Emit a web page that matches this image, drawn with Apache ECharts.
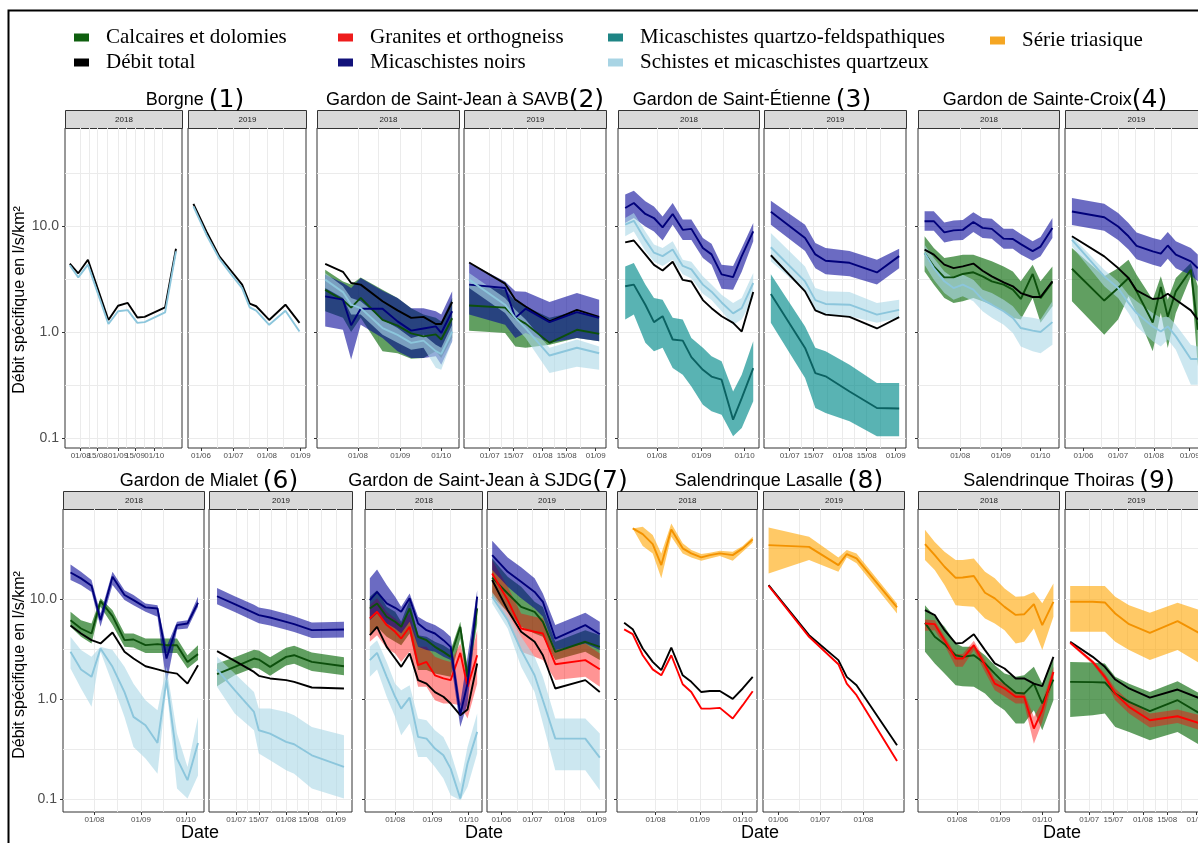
<!DOCTYPE html>
<html>
<head>
<meta charset="utf-8">
<title>Débit spécifique par bassin</title>
<script src="https://cdn.jsdelivr.net/npm/echarts@6.0.0/dist/echarts.min.js"></script>
<style>
  html, body { margin: 0; padding: 0; background: #fff; }
  #chart { width: 1198px; height: 843px; }
</style>
</head>
<body>
<div id="chart"></div>
<script>
// ---------- data (l/s/km²) ----------
// Borgne (1)
const p1a_dates = ['2018-07-23','2018-07-30','2018-08-07','2018-08-24','2018-09-01','2018-09-09','2018-09-17','2018-09-23','2018-10-10','2018-10-19']
const p1a_total = [4.41, 3.58, 4.81, 1.30, 1.77, 1.88, 1.37, 1.39, 1.71, 6.11]
const p1a_schistes = [4.26, 3.28, 4.32, 1.19, 1.57, 1.61, 1.22, 1.24, 1.53, 5.77]
const p1b_dates = ['2019-05-25','2019-06-06','2019-06-18','2019-06-28','2019-07-09','2019-07-16','2019-07-22','2019-08-03','2019-08-18','2019-08-31']
const p1b_total = [16.2, 8.91, 5.17, 3.87, 2.80, 1.85, 1.75, 1.30, 1.81, 1.22]
const p1b_schistes = [15.3, 8.28, 4.92, 3.60, 2.60, 1.71, 1.59, 1.17, 1.59, 1.01]

// Gardon de Saint-Jean à SAVB (2)
const p2a_dates = ['2018-07-08','2018-07-21','2018-07-27','2018-08-03','2018-08-19','2018-08-30','2018-09-09','2018-09-18','2018-09-27','2018-10-01','2018-10-09']
const p2a_total = [4.4, 3.7, 2.9, 2.8, 1.95, 1.6, 1.36, 1.39, 1.19, 1.19, 1.92]
const p2a_noirs = [2.17, 2.02, 1.16, 1.66, 1.66, 1.26, 1.03, 1.08, 1.13, 0.98, 1.57]
const p2a_noirs_lo = [1.13, 1.05, 0.55, 1.17, 0.88, 0.66, 0.57, 0.57, 0.59, 0.49, 0.82]
const p2a_noirs_hi = [3.47, 2.9, 2.6, 3.23, 2.45, 2.09, 1.68, 1.68, 1.57, 1.46, 2.42]
const p2a_calc = [2.5, 2.0, 1.7, 2.1, 1.3, 1.15, 0.97, 0.91, 0.95, 0.85, 1.35]
const p2a_calc_lo = [1.57, 1.36, 1.0, 1.36, 0.66, 0.63, 0.56, 0.57, 0.66, 0.57, 0.88]
const p2a_calc_hi = [3.87, 3.0, 2.8, 3.27, 2.5, 2.09, 1.68, 1.46, 1.36, 1.26, 2.09]
const p2a_schistes = [3.12, 2.38, 1.81, 1.68, 1.09, 0.94, 0.79, 0.83, 0.66, 0.62, 1.01]
const p2a_schistes_lo = [2.6, 2.09, 1.46, 1.46, 0.94, 0.79, 0.68, 0.71, 0.46, 0.44, 0.82]
const p2a_schistes_hi = [3.6, 2.7, 2.09, 1.95, 1.31, 1.09, 0.88, 0.94, 0.76, 0.71, 1.17]
const p2b_dates = ['2019-06-19','2019-07-10','2019-07-16','2019-07-22','2019-08-05','2019-08-21','2019-09-03']
const p2b_total = [4.53, 2.86, 2.02, 1.74, 1.26, 1.62, 1.39]
const p2b_noirs = [2.80, 2.60, 1.36, 1.66, 1.24, 1.54, 1.36]
const p2b_noirs_lo = [1.46, 1.17, 0.88, 0.98, 0.79, 0.88, 0.82]
const p2b_noirs_hi = [4.5, 3.0, 2.42, 2.4, 1.92, 2.33, 2.02]
const p2b_calc = [1.78, 1.7, 1.36, 1.2, 0.79, 1.05, 0.96]
const p2b_calc_lo = [1.03, 0.98, 0.73, 0.71, 0.76, 0.88, 0.82]
const p2b_calc_hi = [2.8, 2.5, 1.95, 1.74, 1.36, 1.57, 1.36]
const p2b_schistes = [3.12, 1.81, 1.36, 1.09, 0.60, 0.71, 0.63]
const p2b_schistes_lo = [2.6, 1.51, 1.13, 0.88, 0.41, 0.47, 0.44]
const p2b_schistes_hi = [3.6, 2.09, 1.62, 1.31, 0.71, 0.85, 0.73]

// Gardon de Saint-Étienne (3)
const p3a_dates = ['2018-07-10','2018-07-16','2018-07-24','2018-07-30','2018-08-05','2018-08-12','2018-08-19','2018-08-25','2018-09-02','2018-09-08','2018-09-15','2018-09-23','2018-09-29','2018-10-07']
const p3a_total = [7.0, 7.3, 5.4, 4.3, 3.8, 4.6, 3.1, 3.0, 2.0, 1.68, 1.41, 1.22, 1.01, 2.38]
const p3a_noirs = [14.8, 16.5, 13.0, 11.9, 9.7, 13.0, 9.2, 9.4, 6.2, 5.4, 3.5, 3.3, 5.2, 8.9]
const p3a_noirs_lo = [10.7, 11.9, 9.9, 8.9, 7.3, 10.3, 7.4, 7.4, 5.0, 4.3, 2.56, 2.5, 3.7, 7.2]
const p3a_noirs_hi = [19.8, 21.5, 17.1, 15.3, 12.3, 16.5, 11.5, 11.5, 7.7, 6.8, 4.3, 4.2, 6.2, 10.7]
const p3a_schistes = [10.3, 11.2, 7.4, 5.6, 5.2, 6.0, 4.2, 3.9, 2.8, 2.4, 1.9, 1.5, 1.68, 2.9]
const p3a_schistes_lo = [8.0, 8.9, 5.8, 4.6, 4.2, 4.8, 3.5, 3.2, 2.3, 2.0, 1.57, 1.17, 1.31, 2.09]
const p3a_schistes_hi = [11.9, 13.3, 8.9, 6.7, 6.2, 7.2, 4.8, 4.6, 3.35, 2.8, 2.25, 1.88, 2.09, 3.6]
const p3a_quartzo = [2.7, 2.8, 1.81, 1.24, 1.41, 0.85, 0.83, 0.58, 0.44, 0.38, 0.355, 0.149, 0.238, 0.457]
const p3a_quartzo_lo = [1.31, 1.46, 0.79, 0.66, 0.71, 0.457, 0.396, 0.307, 0.206, 0.179, 0.166, 0.104, 0.124, 0.222]
const p3a_quartzo_hi = [4.16, 4.48, 2.8, 2.09, 2.02, 1.36, 1.31, 0.88, 0.71, 0.59, 0.53, 0.275, 0.396, 0.817]
const p3b_dates = ['2019-06-20','2019-07-10','2019-07-16','2019-07-22','2019-08-05','2019-08-21','2019-09-03']
const p3b_total = [5.3, 2.42, 1.6, 1.46, 1.39, 1.08, 1.38]
const p3b_noirs = [13.6, 7.7, 5.4, 4.7, 4.5, 3.65, 5.2]
const p3b_noirs_lo = [10.3, 5.8, 4.0, 3.5, 3.35, 2.8, 4.0]
const p3b_noirs_hi = [17.3, 10.3, 6.9, 6.2, 5.8, 4.8, 6.1]
const p3b_schistes = [6.3, 3.0, 2.0, 1.84, 1.81, 1.46, 1.62]
const p3b_schistes_lo = [4.64, 2.42, 1.57, 1.46, 1.41, 1.22, 1.36]
const p3b_schistes_hi = [8.6, 4.16, 2.6, 2.42, 2.38, 1.88, 2.02]
const p3b_quartzo = [2.28, 0.707, 0.41, 0.382, 0.275, 0.192, 0.19]
const p3b_quartzo_lo = [1.22, 0.368, 0.192, 0.172, 0.144, 0.104, 0.104]
const p3b_quartzo_hi = [3.5, 1.13, 0.71, 0.657, 0.491, 0.33, 0.33]

// Gardon de Sainte-Croix (4)
const p4a_dates = ['2018-07-05','2018-07-12','2018-07-20','2018-07-27','2018-08-03','2018-08-11','2018-08-18','2018-08-25','2018-09-03','2018-09-10','2018-09-16','2018-09-25','2018-10-01','2018-10-10']
const p4a_total = [5.98, 5.37, 4.32, 4.01, 4.16, 4.42, 3.79, 3.35, 2.94, 2.70, 2.33, 2.14, 2.14, 3.01]
const p4a_noirs = [11.1, 11.1, 8.7, 9.1, 9.2, 10.9, 9.6, 9.4, 7.6, 7.55, 6.75, 5.8, 6.4, 9.6]
const p4a_noirs_lo = [9.0, 9.0, 7.0, 7.3, 7.4, 8.8, 7.7, 7.6, 6.1, 6.1, 5.4, 4.7, 5.2, 7.7]
const p4a_noirs_hi = [13.8, 13.8, 10.8, 11.3, 11.4, 13.5, 11.9, 11.7, 9.4, 9.4, 8.4, 7.2, 7.9, 11.9]
const p4a_calc = [5.56, 4.16, 3.28, 3.28, 3.53, 3.66, 3.35, 3.01, 2.80, 2.51, 2.05, 3.53, 2.09, 2.96]
const p4a_calc_lo = [3.73, 2.80, 2.09, 1.88, 1.95, 2.09, 1.95, 1.81, 1.57, 1.36, 1.31, 2.09, 1.22, 1.75]
const p4a_calc_hi = [8.0, 6.2, 5.0, 5.17, 5.37, 5.37, 5.0, 4.64, 4.16, 3.73, 3.01, 4.32, 3.01, 4.16]
const p4a_schistes = [5.56, 4.01, 3.01, 2.60, 2.80, 2.51, 2.02, 1.81, 1.57, 1.36, 1.09, 1.03, 1.0, 1.24]
const p4a_schistes_lo = [4.32, 3.12, 2.33, 2.02, 2.17, 1.95, 1.57, 1.36, 1.17, 0.98, 0.73, 0.66, 0.63, 0.76]
const p4a_schistes_hi = [6.67, 5.0, 3.73, 3.23, 3.47, 3.12, 2.51, 2.33, 2.02, 1.75, 1.41, 1.36, 1.31, 1.95]
const p4b_dates = ['2019-05-22','2019-06-19','2019-07-01','2019-07-10','2019-07-17','2019-07-31','2019-08-07','2019-08-13','2019-08-20','2019-09-02','2019-09-08']
const p4b_total = [8.0, 5.17, 4.01, 3.23, 2.47, 2.05, 2.09, 2.3, 2.02, 1.6, 1.31]
const p4b_noirs = [13.7, 12.1, 9.9, 8.0, 6.5, 5.77, 5.5, 6.55, 5.37, 4.64, 4.0]
const p4b_noirs_lo = [10.2, 9.0, 7.4, 6.0, 4.85, 4.3, 4.1, 4.9, 4.0, 3.46, 3.0]
const p4b_noirs_hi = [18.4, 16.2, 13.3, 10.7, 8.7, 7.7, 7.4, 8.8, 7.2, 6.2, 5.4]
const p4b_calc = [3.95, 1.98, 2.6, 3.23, 2.42, 1.23, 2.66, 1.39, 2.42, 3.87, 1.05]
const p4b_calc_lo = [1.95, 0.944, 1.31, 2.17, 1.51, 0.657, 1.51, 0.707, 1.51, 3.35, 0.475]
const p4b_calc_hi = [6.2, 3.35, 4.0, 4.8, 3.47, 2.02, 3.35, 2.02, 3.23, 4.48, 2.7]
const p4b_schistes = [7.4, 3.35, 2.6, 1.88, 1.51, 1.13, 1.01, 1.13, 0.91, 0.556, 0.556]
const p4b_schistes_lo = [6.4, 2.7, 2.09, 1.51, 1.13, 0.82, 0.73, 0.85, 0.68, 0.318, 0.318]
const p4b_schistes_hi = [8.0, 3.87, 3.0, 2.25, 1.95, 1.51, 1.36, 1.41, 1.17, 0.76, 0.73]

// Gardon de Mialet (6)
const p6a_dates = ['2018-07-16','2018-07-23','2018-07-30','2018-08-05','2018-08-13','2018-08-21','2018-08-27','2018-09-04','2018-09-12','2018-09-18','2018-09-25','2018-10-02','2018-10-09']
const p6a_total = [5.41, 4.5, 3.86, 3.58, 4.61, 2.95, 2.53, 2.12, 1.97, 1.86, 1.79, 1.42, 2.17]
const p6a_noirs = [18.3, 16.0, 13.5, 6.12, 16.6, 10.9, 9.7, 8.2, 8.0, 2.53, 5.46, 5.67, 9.12]
const p6a_noirs_lo = [15.4, 13.7, 11.7, 5.25, 13.7, 9.7, 8.64, 7.41, 6.61, 1.42, 4.94, 5.05, 8.32]
const p6a_noirs_hi = [22.0, 18.6, 15.4, 7.13, 18.6, 12.2, 10.9, 8.98, 8.64, 3.31, 5.89, 6.12, 10.5]
const p6a_calc = [6.12, 5.05, 4.5, 9.48, 6.71, 3.86, 3.92, 3.44, 3.52, 3.44, 3.44, 2.34, 2.80]
const p6a_calc_lo = [5.25, 4.17, 3.58, 8.32, 5.46, 3.31, 3.26, 2.88, 2.88, 2.88, 2.88, 2.01, 2.44]
const p6a_calc_hi = [7.41, 6.12, 5.67, 10.1, 7.7, 4.5, 4.5, 4.01, 4.01, 4.01, 4.01, 2.73, 3.44]
const p6a_schistes = [2.95, 1.97, 1.66, 3.19, 2.09, 1.17, 0.661, 0.545, 0.363, 1.54, 0.253, 0.154, 0.363]
const p6a_schistes_lo = [2.01, 1.27, 0.832, 2.95, 1.42, 0.661, 0.331, 0.253, 0.179, 1.32, 0.127, 0.101, 0.172]
const p6a_schistes_hi = [4.17, 3.07, 2.63, 3.31, 3.07, 2.09, 1.42, 0.97, 0.77, 2.09, 0.45, 0.209, 0.661]
const p6b_dates = ['2019-06-19','2019-06-30','2019-07-12','2019-07-15','2019-07-22','2019-08-01','2019-08-06','2019-08-17','2019-09-06']
const p6b_total = [3.0, 2.4, 1.86, 1.7, 1.6, 1.54, 1.48, 1.3, 1.27]
const p6b_noirs = [10.6, 8.85, 7.24, 6.87, 6.5, 5.89, 5.58, 4.86, 4.94]
const p6b_noirs_lo = [8.8, 7.4, 6.0, 5.7, 5.4, 4.9, 4.65, 4.05, 4.1]
const p6b_noirs_hi = [12.8, 10.6, 8.7, 8.2, 7.8, 7.1, 6.7, 5.8, 5.9]
const p6b_calc = [1.77, 2.09, 2.53, 2.47, 2.09, 2.63, 2.73, 2.34, 2.12]
const p6b_calc_lo = [1.34, 1.72, 2.05, 2.0, 1.7, 2.15, 2.25, 1.9, 1.72]
const p6b_calc_hi = [2.26, 2.6, 3.1, 3.05, 2.6, 3.25, 3.4, 2.9, 2.6]
const p6b_schistes = [1.97, 1.22, 0.741, 0.486, 0.45, 0.372, 0.352, 0.273, 0.209]
const p6b_schistes_lo = [1.32, 0.714, 0.486, 0.284, 0.243, 0.194, 0.179, 0.127, 0.101]
const p6b_schistes_hi = [2.63, 1.79, 1.17, 0.8, 0.8, 0.741, 0.686, 0.525, 0.434]

// Gardon de Saint-Jean à SJDG (7)
const p7a_dates = ['2018-07-11','2018-07-17','2018-07-25','2018-08-01','2018-08-06','2018-08-13','2018-08-20','2018-08-27','2018-09-03','2018-09-10','2018-09-16','2018-09-24','2018-09-30','2018-10-08']
const p7a_total = [4.33, 5.25, 3.31, 2.53, 2.09, 2.84, 1.54, 1.42, 1.17, 1.05, 0.898, 0.687, 0.782, 2.26]
const p7a_noirs = [9.7, 11.7, 8.98, 8.13, 7.41, 10.1, 5.67, 4.86, 4.5, 3.86, 3.31, 0.697, 1.42, 10.5]
const p7a_noirs_lo = [6.12, 7.13, 5.67, 5.05, 4.5, 5.89, 3.31, 3.07, 2.95, 2.63, 2.44, 0.525, 0.898, 7.7]
const p7a_noirs_hi = [16.0, 19.6, 13.7, 10.5, 8.32, 11.3, 6.61, 5.89, 5.46, 4.86, 4.17, 0.898, 2.63, 12.2]
const p7a_calc = [8.0, 8.98, 6.61, 5.89, 5.25, 8.0, 4.17, 3.86, 3.31, 2.95, 2.63, 5.25, 1.66, 8.0]
const p7a_calc_lo = [4.5, 5.25, 4.17, 3.72, 3.44, 4.5, 1.94, 1.94, 1.79, 1.72, 1.66, 4.01, 1.32, 5.67]
const p7a_calc_hi = [10.5, 12.2, 8.32, 7.41, 5.89, 9.7, 4.33, 4.17, 3.72, 3.44, 3.07, 5.89, 2.09, 9.7]
const p7a_granites = [6.36, 7.41, 5.46, 4.68, 4.01, 5.25, 2.17, 2.34, 1.72, 1.60, 1.54, 2.88, 1.32, 2.73]
const p7a_granites_lo = [3.72, 4.33, 3.19, 2.84, 2.34, 2.95, 1.32, 1.32, 0.97, 0.898, 0.898, 0.865, 0.636, 1.42]
const p7a_granites_hi = [8.64, 10.1, 7.41, 6.36, 5.67, 7.13, 3.31, 3.31, 2.63, 2.44, 2.34, 3.58, 1.79, 4.86]
const p7a_schistes = [2.44, 2.88, 1.66, 1.05, 0.8, 1.03, 0.417, 0.401, 0.319, 0.273, 0.201, 0.101, 0.226, 0.468]
const p7a_schistes_lo = [1.66, 1.97, 1.05, 0.661, 0.433, 0.567, 0.263, 0.263, 0.209, 0.16, 0.109, 0.097, 0.132, 0.284]
const p7a_schistes_hi = [3.31, 3.86, 2.34, 1.42, 1.22, 1.37, 0.636, 0.612, 0.486, 0.417, 0.295, 0.142, 0.331, 0.714]
const p7b_dates = ['2019-05-23','2019-06-07','2019-06-20','2019-07-03','2019-07-11','2019-07-23','2019-08-21','2019-09-04']
const p7b_total = [15.4, 7.7, 4.68, 3.72, 2.73, 1.27, 1.54, 1.17]
const p7b_noirs = [27.3, 18.6, 14.8, 11.7, 9.33, 4.01, 5.46, 4.43]
const p7b_noirs_lo = [19.4, 13.2, 10.1, 8.0, 6.61, 3.07, 3.58, 3.07]
const p7b_noirs_hi = [38.0, 25.9, 20.6, 16.0, 11.3, 5.46, 7.24, 5.89]
const p7b_calc = [16.3, 11.3, 8.3, 7.41, 5.89, 2.95, 3.72, 3.31]
const p7b_calc_lo = [10.5, 7.41, 5.25, 4.5, 4.17, 2.44, 2.95, 2.44]
const p7b_calc_hi = [25.3, 16.6, 13.2, 9.33, 8.3, 3.72, 4.86, 4.33]
const p7b_granites = [17.9, 9.7, 5.05, 4.68, 4.5, 2.22, 2.44, 1.98]
const p7b_granites_lo = [11.3, 5.89, 2.95, 2.63, 2.44, 1.54, 1.66, 1.32]
const p7b_granites_hi = [24.4, 13.2, 7.13, 6.61, 6.36, 3.07, 3.58, 2.84]
const p7b_schistes = [10.5, 6.12, 3.07, 1.72, 0.97, 0.401, 0.401, 0.259]
const p7b_schistes_lo = [8.98, 5.05, 2.09, 1.17, 0.567, 0.194, 0.194, 0.122]
const p7b_schistes_hi = [11.7, 7.13, 4.17, 2.63, 1.66, 0.636, 0.636, 0.45]

// Salendrinque Lasalle (8)
const p8a_dates = ['2018-07-10','2018-07-16','2018-07-23','2018-07-30','2018-08-05','2018-08-12','2018-08-20','2018-08-26','2018-09-02','2018-09-08','2018-09-15','2018-09-24','2018-10-01','2018-10-08']
const p8a_total = [5.75, 4.97, 3.19, 2.34, 1.94, 3.26, 1.72, 1.48, 1.17, 1.2, 1.2, 1.0, 1.27, 1.66]
const p8a_granites = [4.94, 4.43, 2.73, 1.97, 1.72, 2.73, 1.4, 1.17, 0.8, 0.8, 0.813, 0.636, 0.865, 1.19]
const p8a_trias = [null, 50.5, 44.3, 35.2, 21.7, 49.3, 31.9, 28.4, 25.9, 27.3, 28.4, 27.3, 31.9, 39.2]
const p8a_trias_lo = [null, 50.5, 33.6, 28.4, 16.0, 41.7, 28.4, 25.9, 24.0, 25.3, 26.7, 24.0, 29.5, 36.3]
const p8a_trias_hi = [null, 50.5, 52.5, 43.3, 28.4, 56.6, 35.8, 30.7, 28.0, 28.8, 30.2, 29.5, 33.6, 41.7]
const p8b_dates = ['2019-05-25','2019-06-23','2019-07-14','2019-07-20','2019-07-27','2019-08-25']
const p8b_total = [13.7, 4.33, 2.44, 1.66, 1.37, 0.344]
const p8b_granites = [13.5, 4.17, 2.22, 1.42, 1.09, 0.24]
const p8b_trias = [34.4, 33.0, 21.7, 28.0, 25.3, 8.2]
const p8b_trias_lo = [17.9, 24.4, 18.6, 25.9, 22.6, 7.13]
const p8b_trias_hi = [51.7, 41.7, 25.9, 30.7, 28.4, 8.98]

// Salendrinque Thoiras (9)
const p9a_dates = ['2018-07-09','2018-07-16','2018-07-23','2018-07-31','2018-08-05','2018-08-13','2018-08-21','2018-08-28','2018-09-04','2018-09-12','2018-09-18','2018-09-25','2018-10-01','2018-10-09']
const p9a_total = [7.7, 6.87, 4.86, 3.58, 3.63, 4.43, 3.07, 2.26, 2.01, 1.60, 1.60, 1.42, 1.34, 2.63]
const p9a_calc = [5.75, 4.17, 3.52, 2.73, 2.63, 2.73, 2.26, 1.79, 1.42, 1.15, 1.13, 1.42, 0.90, 1.56]
const p9a_calc_lo = [2.95, 2.26, 1.79, 1.37, 1.34, 1.32, 1.13, 0.90, 0.77, 0.567, 0.567, 0.77, 0.486, 0.97]
const p9a_calc_hi = [8.64, 6.61, 5.25, 3.58, 3.31, 3.31, 2.73, 2.17, 1.79, 1.66, 1.72, 2.09, 1.42, 2.53]
const p9a_granites = [5.67, 5.58, 3.86, 2.53, 2.53, 3.44, 2.17, 1.42, 1.27, 1.05, 1.05, 0.505, 0.77, 1.86]
const p9a_granites_lo = [4.79, 4.86, 3.44, 2.09, 2.09, 3.07, 1.86, 1.22, 1.06, 0.898, 0.898, 0.357, 0.589, 1.60]
const p9a_granites_hi = [6.21, 6.12, 4.23, 2.80, 2.80, 3.80, 2.44, 1.60, 1.42, 1.17, 1.17, 0.661, 0.933, 2.09]
const p9a_trias = [35.2, 27.3, 20.9, 16.2, 16.3, 16.9, 11.5, 10.1, 8.3, 6.9, 7.0, 8.85, 5.46, 9.33]
const p9a_trias_lo = [24.4, 19.4, 13.7, 8.64, 8.45, 8.32, 6.36, 5.67, 4.86, 3.58, 3.72, 5.05, 3.07, 6.61]
const p9a_trias_hi = [49.0, 37.0, 29.5, 24.4, 24.4, 25.3, 18.6, 16.0, 12.7, 10.5, 10.6, 11.7, 9.0, 14.2]
const p9b_dates = ['2019-06-20','2019-07-03','2019-07-10','2019-07-16','2019-07-24','2019-08-05','2019-08-21','2019-09-03']
const p9b_total = [3.72, 2.63, 2.09, 1.56, 1.27, 1.03, 1.24, 1.01]
const p9b_calc = [1.48, 1.47, 1.46, 1.13, 0.933, 0.753, 0.97, 0.714]
const p9b_calc_lo = [0.661, 0.687, 0.714, 0.525, 0.468, 0.386, 0.468, 0.344]
const p9b_calc_hi = [2.34, 2.31, 2.26, 1.66, 1.42, 1.17, 1.5, 1.13]
const p9b_granites = [3.63, 2.34, 1.66, 1.13, 0.832, 0.612, 0.671, 0.567]
const p9b_granites_lo = [3.52, 2.22, 1.54, 0.97, 0.714, 0.517, 0.575, 0.486]
const p9b_granites_hi = [3.72, 2.44, 1.79, 1.27, 0.955, 0.714, 0.782, 0.687]
const p9b_trias = [9.33, 9.33, 9.19, 7.13, 5.58, 4.57, 5.98, 4.5]
const p9b_trias_lo = [4.68, 4.68, 4.68, 3.72, 3.07, 2.44, 3.07, 2.26]
const p9b_trias_hi = [13.4, 13.4, 13.4, 10.5, 8.64, 7.24, 9.12, 7.7]

// tick labels (dates), extra half-month labels, minor grid lines
const ticks_2018 = ['2018-08-01','2018-09-01','2018-10-01']
const ticks_2018_mid = ['2018-08-15','2018-09-15']
const minor_2018_half = ['2018-07-25','2018-08-08','2018-08-23','2018-09-08','2018-09-23','2018-10-08','2018-10-23']
const minor_2018 = ['2018-07-16','2018-08-16','2018-09-16','2018-10-16']
const ticks_2019 = ['2019-06-01','2019-07-01','2019-08-01','2019-09-01']
const minor_2019 = ['2019-05-16','2019-06-16','2019-07-16','2019-08-16','2019-09-16']
const ticks_2019_half = ['2019-07-01','2019-07-15','2019-08-01','2019-08-15','2019-09-01']
const minor_2019_half = ['2019-06-23','2019-07-08','2019-07-23','2019-08-08','2019-08-23','2019-09-08']
const ticks_2019_short = ['2019-06-01','2019-07-01','2019-08-01']
const y_ticks = [0.1, 1, 10]

const NAMES = {
	calc: 'Calcaires et dolomies',
	total: 'Débit total',
	granites: 'Granites et orthogneiss',
	noirs: 'Micaschistes noirs',
	quartzo: 'Micaschistes quartzo-feldspathiques',
	schistes: 'Schistes et micaschistes quartzeux',
	trias: 'Série triasique'
}
const STYLE = {
	calc: { line: '#0c4f0c', band: 'rgba(0,100,0,0.62)', key: '#0f5f0f' },
	total: { line: '#000000', key: '#000000' },
	granites: { line: '#ff0000', band: 'rgba(255,0,0,0.42)', key: '#ee1c1c' },
	noirs: { line: '#00007a', band: 'rgba(0,0,150,0.58)', key: '#12127a' },
	quartzo: { line: '#0b6262', band: 'rgba(0,139,139,0.65)', key: '#1e8585' },
	schistes: { line: '#8cc6dc', band: 'rgba(173,216,230,0.62)', key: '#a8d4e4' },
	trias: { line: '#f39200', band: 'rgba(255,165,0,0.6)', key: '#f5a623' }
}

// layout: [left, width] of each facet, rows have fixed top/height
const TOP_ROW = { top: 128, height: 320, min: 0.0805, max: 84.1 }
const BOT_ROW = { top: 509, height: 303, min: 0.0741, max: 78.9 }

const facets = [
	{ x: [65, 117], row: TOP_ROW, year: '2018', first: true, ylab: true, dates: p1a_dates, range: ['2018-07-19', '2018-10-24'], ticks: ticks_2018, ticks2: ticks_2018_mid, minor: minor_2018_half,
		s: { total: [p1a_total], schistes: [p1a_schistes] } },
	{ x: [188, 118], row: TOP_ROW, year: '2019', dates: p1b_dates, range: ['2019-05-20', '2019-09-06'], ticks: ticks_2019, minor: minor_2019,
		s: { total: [p1b_total], schistes: [p1b_schistes] } },
	{ x: [317, 142], row: TOP_ROW, year: '2018', first: true, dates: p2a_dates, range: ['2018-07-02', '2018-10-14'], ticks: ticks_2018, minor: minor_2018,
		s: { total: [p2a_total], noirs: [p2a_noirs, p2a_noirs_lo, p2a_noirs_hi], calc: [p2a_calc, p2a_calc_lo, p2a_calc_hi], schistes: [p2a_schistes, p2a_schistes_lo, p2a_schistes_hi] } },
	{ x: [464, 142], row: TOP_ROW, year: '2019', dates: p2b_dates, range: ['2019-06-16', '2019-09-07'], ticks: ticks_2019_half, minor: minor_2019_half,
		s: { total: [p2b_total], noirs: [p2b_noirs, p2b_noirs_lo, p2b_noirs_hi], calc: [p2b_calc, p2b_calc_lo, p2b_calc_hi], schistes: [p2b_schistes, p2b_schistes_lo, p2b_schistes_hi] } },
	{ x: [618, 141], row: TOP_ROW, year: '2018', first: true, dates: p3a_dates, range: ['2018-07-05', '2018-10-11'], ticks: ticks_2018, minor: minor_2018,
		s: { total: [p3a_total], noirs: [p3a_noirs, p3a_noirs_lo, p3a_noirs_hi], schistes: [p3a_schistes, p3a_schistes_lo, p3a_schistes_hi], quartzo: [p3a_quartzo, p3a_quartzo_lo, p3a_quartzo_hi] } },
	{ x: [764, 142], row: TOP_ROW, year: '2019', dates: p3b_dates, range: ['2019-06-16', '2019-09-07'], ticks: ticks_2019_half, minor: minor_2019_half,
		s: { total: [p3b_total], noirs: [p3b_noirs, p3b_noirs_lo, p3b_noirs_hi], schistes: [p3b_schistes, p3b_schistes_lo, p3b_schistes_hi], quartzo: [p3b_quartzo, p3b_quartzo_lo, p3b_quartzo_hi] } },
	{ x: [918, 141], row: TOP_ROW, year: '2018', first: true, dates: p4a_dates, range: ['2018-06-30', '2018-10-15'], ticks: ticks_2018, minor: minor_2018,
		s: { total: [p4a_total], noirs: [p4a_noirs, p4a_noirs_lo, p4a_noirs_hi], calc: [p4a_calc, p4a_calc_lo, p4a_calc_hi], schistes: [p4a_schistes, p4a_schistes_lo, p4a_schistes_hi] } },
	{ x: [1065, 142], row: TOP_ROW, year: '2019', dates: p4b_dates, range: ['2019-05-16', '2019-09-16'], ticks: ticks_2019, minor: minor_2019,
		s: { total: [p4b_total], noirs: [p4b_noirs, p4b_noirs_lo, p4b_noirs_hi], calc: [p4b_calc, p4b_calc_lo, p4b_calc_hi], schistes: [p4b_schistes, p4b_schistes_lo, p4b_schistes_hi] } },

	{ x: [63, 141], row: BOT_ROW, year: '2018', first: true, ylab: true, dates: p6a_dates, range: ['2018-07-11', '2018-10-13'], ticks: ticks_2018, minor: minor_2018,
		s: { total: [p6a_total], noirs: [p6a_noirs, p6a_noirs_lo, p6a_noirs_hi], calc: [p6a_calc, p6a_calc_lo, p6a_calc_hi], schistes: [p6a_schistes, p6a_schistes_lo, p6a_schistes_hi] } },
	{ x: [209, 143], row: BOT_ROW, year: '2019', dates: p6b_dates, range: ['2019-06-14', '2019-09-11'], ticks: ticks_2019_half, minor: minor_2019_half,
		s: { total: [p6b_total], noirs: [p6b_noirs, p6b_noirs_lo, p6b_noirs_hi], calc: [p6b_calc, p6b_calc_lo, p6b_calc_hi], schistes: [p6b_schistes, p6b_schistes_lo, p6b_schistes_hi] } },
	{ x: [365, 117], row: BOT_ROW, year: '2018', first: true, dates: p7a_dates, range: ['2018-07-07', '2018-10-12'], ticks: ticks_2018, minor: minor_2018,
		s: { total: [p7a_total], noirs: [p7a_noirs, p7a_noirs_lo, p7a_noirs_hi], calc: [p7a_calc, p7a_calc_lo, p7a_calc_hi], granites: [p7a_granites, p7a_granites_lo, p7a_granites_hi], schistes: [p7a_schistes, p7a_schistes_lo, p7a_schistes_hi] } },
	{ x: [487, 119], row: BOT_ROW, year: '2019', dates: p7b_dates, range: ['2019-05-18', '2019-09-10'], ticks: ticks_2019, minor: minor_2019,
		s: { total: [p7b_total], noirs: [p7b_noirs, p7b_noirs_lo, p7b_noirs_hi], calc: [p7b_calc, p7b_calc_lo, p7b_calc_hi], granites: [p7b_granites, p7b_granites_lo, p7b_granites_hi], schistes: [p7b_schistes, p7b_schistes_lo, p7b_schistes_hi] } },
	{ x: [617, 140], row: BOT_ROW, year: '2018', first: true, dates: p8a_dates, range: ['2018-07-05', '2018-10-11'], ticks: ticks_2018, minor: minor_2018,
		s: { total: [p8a_total], granites: [p8a_granites], trias: [p8a_trias, p8a_trias_lo, p8a_trias_hi] } },
	{ x: [763, 141], row: BOT_ROW, year: '2019', dates: p8b_dates, range: ['2019-05-21', '2019-08-30'], ticks: ticks_2019_short, minor: minor_2019,
		s: { total: [p8b_total], granites: [p8b_granites], trias: [p8b_trias, p8b_trias_lo, p8b_trias_hi] } },
	{ x: [918, 141], row: BOT_ROW, year: '2018', first: true, dates: p9a_dates, range: ['2018-07-04', '2018-10-13'], ticks: ticks_2018, minor: minor_2018,
		s: { total: [p9a_total], calc: [p9a_calc, p9a_calc_lo, p9a_calc_hi], granites: [p9a_granites, p9a_granites_lo, p9a_granites_hi], trias: [p9a_trias, p9a_trias_lo, p9a_trias_hi] } },
	{ x: [1065, 142], row: BOT_ROW, year: '2019', dates: p9b_dates, range: ['2019-06-17', '2019-09-07'], ticks: ticks_2019_half, minor: minor_2019_half,
		s: { total: [p9b_total], calc: [p9b_calc, p9b_calc_lo, p9b_calc_hi], granites: [p9b_granites, p9b_granites_lo, p9b_granites_hi], trias: [p9b_trias, p9b_trias_lo, p9b_trias_hi] } }
]

const titles = [
	['Borgne ', '(1)', 195, 100], ['Gardon de Saint-Jean à SAVB', '(2)', 465, 100],
	['Gardon de Saint-Étienne ', '(3)', 752, 100], ['Gardon de Sainte-Croix', '(4)', 1055, 100],
	['Gardon de Mialet ', '(6)', 209, 481], ['Gardon de Saint-Jean à SJDG', '(7)', 488, 481],
	['Salendrinque Lasalle ', '(8)', 779, 481], ['Salendrinque Thoiras ', '(9)', 1069, 481]
]

// ---------- build ----------
// dates become day timestamps on a plain value axis
const ts = d => +echarts.number.parseDate(d)
const pad = n => (n < 10 ? '0' : '') + n
const fmtDate = v => { const d = new Date(v); return pad(d.getDate()) + '/' + pad(d.getMonth() + 1) }
const fmtLog = v => { const l = Math.log10(v); return Math.abs(l - Math.round(l)) < 0.02 ? v.toFixed(1) : '' }

const BAND_ORDER = ['calc', 'granites', 'noirs', 'quartzo', 'schistes', 'trias']
const LINE_ORDER = ['calc', 'total', 'granites', 'noirs', 'quartzo', 'schistes', 'trias']
const GRID_LINE = { color: '#ebebeb', width: 1 }
const TICK_LINE = { color: '#333333', width: 1 }
const X_LABEL = { fontSize: 8, color: '#4d4d4d', fontFamily: 'Liberation Sans', margin: 4, hideOverlap: false, showMinLabel: true, showMaxLabel: true, formatter: fmtDate }

const bandRenderer = fill => (params, api) => {
	if (params.dataIndexInside !== 0) return
	const n = params.dataInsideLength
	const top = [], bot = []
	for (let k = 0; k < n; k++) {
		top.push(api.coord([api.value(0, k), api.value(2, k)]))
		bot.push(api.coord([api.value(0, k), api.value(1, k)]))
	}
	return { type: 'polygon', shape: { points: top.concat(bot.reverse()) }, style: { fill: fill } }
}

const grid = [], xAxis = [], yAxis = [], series = [], graphic = []

// helper axis that only draws ticks + labels at given positions
const labelAxis = (i, lo, hi, vals) => ({
	type: 'value', gridIndex: i, min: lo, max: hi, position: 'bottom',
	axisLine: { show: false },
	axisTick: { show: true, length: 3, lineStyle: TICK_LINE, customValues: vals },
	axisLabel: Object.assign({ customValues: vals }, X_LABEL),
	splitLine: { show: false }
})

facets.forEach((f, i) => {
	const r = f.row
	const lo = ts(f.range[0]), hi = ts(f.range[1])
	// grid lines: majors + minors, sorted, strictly inside the panel
	const lines = f.ticks.concat(f.ticks2 || [], f.minor).map(ts).filter(v => v > lo && v < hi).sort((a, b) => a - b)
	grid.push({ left: f.x[0], width: f.x[1], top: r.top, height: r.height, show: true, borderColor: '#333333', borderWidth: 1, backgroundColor: 'transparent', containLabel: false, outerBoundsMode: 'none' })

	const xi = xAxis.length
	xAxis.push({
		type: 'value', gridIndex: i, min: lo, max: hi,
		axisLine: { show: false },
		axisTick: { show: false, customValues: lines },
		axisLabel: { show: false },
		splitLine: { show: true, showMinLine: false, showMaxLine: false, lineStyle: GRID_LINE }
	})
	xAxis.push(labelAxis(i, lo, hi, f.ticks.map(ts)))
	if (f.ticks2) xAxis.push(labelAxis(i, lo, hi, f.ticks2.map(ts)))

	const yi = yAxis.length
	yAxis.push({
		type: 'log', logBase: Math.sqrt(10), gridIndex: i, min: r.min, max: r.max,
		axisLine: { show: false }, axisTick: { show: false },
		axisLabel: { show: !!f.ylab, formatter: fmtLog, fontSize: 14, color: '#4d4d4d', fontFamily: 'Liberation Sans', margin: 6, showMinLabel: false, showMaxLabel: false },
		splitLine: { show: true, showMinLine: false, showMaxLine: false, lineStyle: GRID_LINE }
	})
	if (f.first) {
		yAxis.push({
			type: 'log', gridIndex: i, min: r.min, max: r.max, position: 'left',
			axisLine: { show: false },
			axisTick: { show: true, length: 3, lineStyle: TICK_LINE, customValues: y_ticks },
			axisLabel: { show: false }, splitLine: { show: false }
		})
	}

	BAND_ORDER.forEach(k => {
		const s = f.s[k]
		if (!s || !s[1]) return
		const rows = []
		f.dates.forEach((d, j) => { if (s[1][j] != null) rows.push([ts(d), s[1][j], s[2][j]]) })
		series.push({
			type: 'custom', name: NAMES[k], xAxisIndex: xi, yAxisIndex: yi, clip: true, z: 1, silent: true,
			data: rows, encode: { x: 0, y: [1, 2] }, itemStyle: { color: STYLE[k].key },
			renderItem: bandRenderer(STYLE[k].band)
		})
	})
	LINE_ORDER.forEach(k => {
		const s = f.s[k]
		if (!s) return
		series.push({
			type: 'line', name: NAMES[k], xAxisIndex: xi, yAxisIndex: yi, z: 2, silent: true,
			data: f.dates.map((d, j) => [ts(d), s[0][j]]),
			symbol: 'none', showSymbol: false, connectNulls: false,
			lineStyle: { color: STYLE[k].line, width: 1.9 }, itemStyle: { color: STYLE[k].line },
			emphasis: { disabled: true }
		})
	})
	// facet strip
	graphic.push({
		type: 'group', left: f.x[0], top: r.top - 18,
		children: [
			{ type: 'rect', shape: { x: 0, y: 0, width: f.x[1], height: 18 }, style: { fill: '#d9d9d9', stroke: '#333333', lineWidth: 1 } },
			{ type: 'text', x: f.x[1] / 2, y: 9, style: { text: f.year, fill: '#1a1a1a', fontSize: 8, fontFamily: 'Liberation Sans', textAlign: 'center', textVerticalAlign: 'middle' } }
		]
	})
})

titles.forEach(t => {
	graphic.push({
		type: 'text', x: t[2], y: t[3],
		style: {
			text: '{a|' + t[0] + '}{b|' + t[1] + '}', textAlign: 'center', textVerticalAlign: 'middle',
			rich: { a: { fontSize: 18, fontFamily: 'Liberation Sans', fill: '#000' }, b: { fontSize: 25, fontFamily: 'DejaVu Sans', fill: '#000' } }
		}
	})
})
;[[20, 300], [20, 665]].forEach(p => {
	graphic.push({ type: 'text', x: p[0], y: p[1], rotation: Math.PI / 2,
		style: { text: 'Débit spécifique en l/s/km²', fontSize: 16, fontFamily: 'Liberation Sans', fill: '#000', textAlign: 'center', textVerticalAlign: 'middle' } })
})
;[200, 484, 760, 1062].forEach(x => {
	graphic.push({ type: 'text', x: x, y: 833, style: { text: 'Date', fontSize: 18, fontFamily: 'Liberation Sans', fill: '#000', textAlign: 'center', textVerticalAlign: 'middle' } })
})
// outer frame (left and top)
graphic.push({ type: 'polyline', shape: { points: [[8.5, 843], [8.5, 10.5], [1198, 10.5]] }, style: { stroke: '#000', lineWidth: 2, fill: null } })

const legendItem = k => ({ name: NAMES[k], icon: 'rect', itemStyle: { color: STYLE[k].key } })
const legendBase = {
	orient: 'vertical', itemWidth: 15, itemHeight: 8, itemGap: 4, selectedMode: false,
	textStyle: { fontFamily: 'Liberation Serif', fontSize: 21, lineHeight: 21, color: '#000', padding: [0, 0, 0, 12] }
}

const option = {
	animation: false,
	backgroundColor: '#ffffff',
	legend: [
		Object.assign({ left: 69, top: 22, data: [legendItem('calc'), legendItem('total')] }, legendBase),
		Object.assign({ left: 333, top: 22, data: [legendItem('granites'), legendItem('noirs')] }, legendBase),
		Object.assign({ left: 603, top: 22, data: [legendItem('quartzo'), legendItem('schistes')] }, legendBase),
		Object.assign({ left: 985, top: 25, data: [legendItem('trias')] }, legendBase)
	],
	grid: grid,
	xAxis: xAxis,
	yAxis: yAxis,
	series: series,
	graphic: graphic
}

const myChart = echarts.init(document.getElementById('chart'))
myChart.setOption(option)
</script>
</body>
</html>
